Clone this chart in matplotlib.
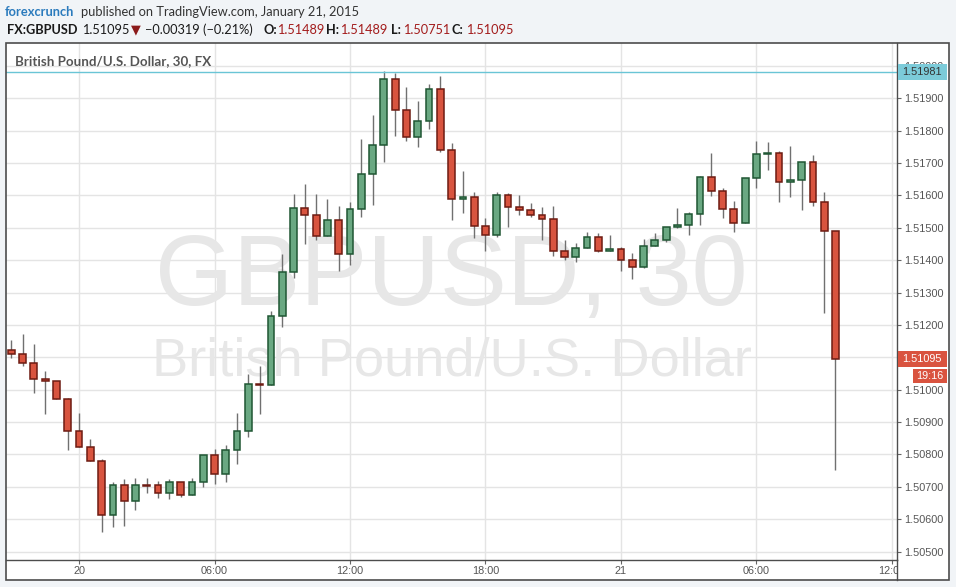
import numpy as np
import matplotlib
matplotlib.use("Agg")
import matplotlib.pyplot as plt
import matplotlib.transforms as mtransforms
from matplotlib.patches import Rectangle
from matplotlib.lines import Line2D
from matplotlib.ticker import FormatStrFormatter

# GBPUSD 30 min candles, 21:00 Jan 19 to 09:30 Jan 21 2015
opens = [1.51122, 1.51109, 1.51081, 1.51032, 1.51026, 1.50970, 1.50872, 1.50822, 1.50779, 1.50612,
         1.50705, 1.50656, 1.50706, 1.50705, 1.50680, 1.50714, 1.50674, 1.50714, 1.50798, 1.50739,
         1.50813, 1.50872, 1.51017, 1.51014, 1.51227, 1.51362, 1.51560, 1.51538, 1.51473, 1.51523,
         1.51418, 1.51557, 1.51665, 1.51754, 1.51958, 1.51862, 1.51779, 1.51828, 1.51927, 1.51739,
         1.51588, 1.51594, 1.51504, 1.51477, 1.51600, 1.51563, 1.51554, 1.51538, 1.51526, 1.51427,
         1.51409, 1.51436, 1.51470, 1.51427, 1.51433, 1.51399, 1.51378, 1.51443, 1.51461, 1.51501,
         1.51507, 1.51541, 1.51656, 1.51612, 1.51557, 1.51514, 1.51653, 1.51727, 1.51730, 1.51640,
         1.51646, 1.51702, 1.51578, 1.51489]
highs = [1.51153, 1.51172, 1.51141, 1.51058, 1.51026, 1.50974, 1.50928, 1.50848, 1.50785, 1.50714,
         1.50724, 1.50727, 1.50727, 1.50718, 1.50724, 1.50714, 1.50727, 1.50798, 1.50817, 1.50829,
         1.50928, 1.51048, 1.51073, 1.51243, 1.51419, 1.51604, 1.51635, 1.51604, 1.51589, 1.51567,
         1.51578, 1.51774, 1.51848, 1.51984, 1.51978, 1.51934, 1.51891, 1.51943, 1.51968, 1.51761,
         1.51675, 1.51609, 1.51529, 1.51609, 1.51606, 1.51600, 1.51575, 1.51563, 1.51566, 1.51462,
         1.51452, 1.51486, 1.51483, 1.51477, 1.51440, 1.51421, 1.51464, 1.51483, 1.51501, 1.51560,
         1.51548, 1.51659, 1.51730, 1.51622, 1.51581, 1.51653, 1.51767, 1.51764, 1.51736, 1.51752,
         1.51702, 1.51724, 1.51610, 1.51489]
lows = [1.51099, 1.51074, 1.50991, 1.50926, 1.50970, 1.50815, 1.50822, 1.50779, 1.50562, 1.50577,
        1.50580, 1.50630, 1.50682, 1.50667, 1.50664, 1.50670, 1.50674, 1.50701, 1.50710, 1.50716,
        1.50772, 1.50853, 1.50926, 1.51014, 1.51194, 1.51346, 1.51451, 1.51463, 1.51473, 1.51367,
        1.51386, 1.51534, 1.51571, 1.51704, 1.51784, 1.51768, 1.51750, 1.51806, 1.51733, 1.51525,
        1.51546, 1.51469, 1.51429, 1.51472, 1.51503, 1.51540, 1.51534, 1.51463, 1.51414, 1.51401,
        1.51395, 1.51436, 1.51424, 1.51427, 1.51367, 1.51343, 1.51375, 1.51443, 1.51455, 1.51498,
        1.51478, 1.51509, 1.51599, 1.51531, 1.51488, 1.51514, 1.51623, 1.51679, 1.51580, 1.51596,
        1.51556, 1.51568, 1.51238, 1.50751]
closes = [1.51109, 1.51081, 1.51032, 1.51026, 1.50970, 1.50872, 1.50822, 1.50779, 1.50612, 1.50705,
          1.50656, 1.50705, 1.50704, 1.50680, 1.50714, 1.50674, 1.50714, 1.50798, 1.50739, 1.50813,
          1.50872, 1.51017, 1.51014, 1.51227, 1.51362, 1.51560, 1.51538, 1.51473, 1.51523, 1.51418,
          1.51557, 1.51665, 1.51754, 1.51958, 1.51862, 1.51779, 1.51828, 1.51927, 1.51739, 1.51588,
          1.51594, 1.51504, 1.51477, 1.51600, 1.51563, 1.51554, 1.51538, 1.51526, 1.51427, 1.51409,
          1.51436, 1.51470, 1.51427, 1.51433, 1.51399, 1.51378, 1.51443, 1.51461, 1.51501, 1.51507,
          1.51541, 1.51656, 1.51612, 1.51557, 1.51514, 1.51653, 1.51727, 1.51730, 1.51640, 1.51646,
          1.51702, 1.51578, 1.51489, 1.51095]

time_ticks = [6, 18, 30, 42, 54, 66, 78]
time_labels = ["20", "06:00", "12:00", "18:00", "21", "06:00", "12:00"]
price_ticks = [1.505, 1.506, 1.507, 1.508, 1.509, 1.510, 1.511, 1.512,
               1.513, 1.514, 1.515, 1.516, 1.517, 1.518, 1.519, 1.520]
high_line = 1.51981
last_close = 1.51095
countdown = "19:16"

W, H = 956, 587
fig = plt.figure(figsize=(W / 100, H / 100), dpi=100, facecolor="#f1f4f7")


def fx(px):
    return px / W


def fy(py):
    return 1 - py / H


def fit(t, width):
    # scale font so the text takes the given pixel width
    r = fig.canvas.get_renderer()
    w = t.get_window_extent(r).width
    t.set_fontsize(t.get_fontsize() * width / w)
    return t.get_fontsize()


# white chart panel
fig.add_artist(Rectangle((fx(6), fy(580)), fx(949) - fx(6), fy(43) - fy(580),
                         transform=fig.transFigure, facecolor="white", edgecolor="none", zorder=-5))

ax = fig.add_axes([fx(6), fy(559.5), fx(897) - fx(6), fy(43) - fy(559.5)])
ax.set_facecolor("none")
ax.set_xlim(-0.47, 78.45)
ax.set_ylim(1.504759, 1.520701)

o = np.array(opens)
c = np.array(closes)
idx = np.arange(len(o))
up = c >= o
lo = np.minimum(o, c)
hgt = np.maximum(np.abs(c - o), 0.00002)

ax.vlines(idx, lows, highs, color="#707070", lw=1, zorder=2)
ax.bar(idx[up], hgt[up], bottom=lo[up], width=0.6, color="#6aa882",
       edgecolor="#1f5633", lw=1.1, zorder=3)
ax.bar(idx[~up], hgt[~up], bottom=lo[~up], width=0.6, color="#d8543f",
       edgecolor="#6d1b12", lw=1.1, zorder=3)

ax.axhline(high_line, color="#6ac5d6", lw=1, zorder=2.5)

ax.set_xticks(time_ticks)
ax.set_xticklabels(time_labels)
ax.set_yticks(price_ticks)
ax.yaxis.set_major_formatter(FormatStrFormatter("%.5f"))
ax.yaxis.tick_right()
ax.set_axisbelow(True)
ax.grid(True, color="#e4e4e4", lw=1)
for s in ["top", "left"]:
    ax.spines[s].set_visible(False)
for s in ["right", "bottom"]:
    ax.spines[s].set_color("#4d4d4d")
    ax.spines[s].set_linewidth(1)
ax.tick_params(axis="both", length=3, color="#666666", labelcolor="#555555",
               labelsize=7.8, pad=2)
for lab in ax.get_xticklabels() + ax.get_yticklabels():
    lab.set_family("Liberation Sans")

clip = mtransforms.TransformedBbox(mtransforms.Bbox([[0, 0], [fx(897), 1]]), fig.transFigure)
last_tick = ax.xaxis.get_major_ticks()[-1]
last_tick.label1.set_clip_on(True)
last_tick.label1.set_clip_box(clip)

# panel border and price scale separator
fig.add_artist(Rectangle((fx(6), fy(580)), fx(949) - fx(6), fy(43) - fy(580),
                         transform=fig.transFigure, facecolor="none", edgecolor="#4d4d4d",
                         lw=1.2, zorder=5))
fig.add_artist(Line2D([fx(897), fx(897)], [fy(559.5), fy(580)], transform=fig.transFigure,
                      color="#4d4d4d", lw=1, zorder=5))

# watermark
wm1 = ax.text(fx(451), fy(305), "GBPUSD, 30", transform=fig.transFigure, ha="center",
              va="baseline", color="#e7e7e7", family="Liberation Sans", fontsize=70, zorder=1)
fit(wm1, 593)
wm2 = ax.text(fx(452), fy(375), "British Pound/U.S. Dollar", transform=fig.transFigure,
              ha="center", va="baseline", color="#e7e7e7", family="Liberation Sans",
              fontsize=40, zorder=1)
fit(wm2, 600)

# price scale labels
ident = mtransforms.IdentityTransform()
yd = ax.transData.transform((0, high_line))[1]
fig.add_artist(Rectangle((897.5, yd - 7.8), 49, 15.6, transform=ident,
                         facecolor="#7ccbd9", edgecolor="none", zorder=10))
fig.text(922, yd, f"{high_line:.5f}", transform=ident, ha="center", va="center",
         color="#333333", fontsize=7.8, family="Liberation Sans", zorder=11)
yd = ax.transData.transform((0, last_close))[1]
fig.add_artist(Rectangle((897.5, yd - 7.8), 49, 15.6, transform=ident,
                         facecolor="#d9533f", edgecolor="none", zorder=10))
fig.text(922, yd, f"{last_close:.5f}", transform=ident, ha="center", va="center",
         color="white", fontsize=7.8, family="Liberation Sans", zorder=11)
fig.add_artist(Rectangle((912.7, yd - 24.5), 34, 14.3, transform=ident,
                         facecolor="#d9533f", edgecolor="none", zorder=10))
fig.text(929.7, yd - 17.3, countdown, transform=ident, ha="center", va="center",
         color="white", fontsize=7.8, family="Liberation Sans", zorder=11)

# header
fam = ["Lato", "DejaVu Sans"]
t = fig.text(fx(5), fy(12), "forexcrunch", va="center", color="#2b7bbd",
             weight="bold", family=fam, fontsize=10)
fit(t, 70)
t = fig.text(fx(81), fy(12), "published on TradingView.com, January 21, 2015", va="center",
             color="#333333", family=fam, fontsize=10)
fit(t, 279)

t = fig.text(fx(145), fy(29.5), "\u22120.00319 (\u22120.21%)", va="center", color="#1a1a1a",
             family=fam, fontsize=10)
fs = fit(t, 108)

row = [(7, "FX:GBPUSD", "#1a1a1a", "bold"), (82, "1.51095", "#1a1a1a", "normal"),
       (131, "\u25bc", "#8b1a1a", "normal"),
       (263, "O:", "#1a1a1a", "bold"), (277, "1.51489", "#a31c1c", "normal"),
       (326, "H:", "#1a1a1a", "bold"), (340, "1.51489", "#a31c1c", "normal"),
       (391, "L:", "#1a1a1a", "bold"), (403, "1.50751", "#a31c1c", "normal"),
       (451, "C:", "#1a1a1a", "bold"), (466, "1.51095", "#a31c1c", "normal")]
for x, s, col, w in row:
    fig.text(fx(x), fy(29.5), s, va="center", color=col, weight=w, family=fam, fontsize=fs)

t = fig.text(fx(15), fy(61), "British Pound/U.S. Dollar, 30, FX", va="center",
             color="#555555", weight="bold", family=fam, fontsize=10)
fit(t, 195)

fig.savefig("out.png", dpi=100, facecolor=fig.get_facecolor())
